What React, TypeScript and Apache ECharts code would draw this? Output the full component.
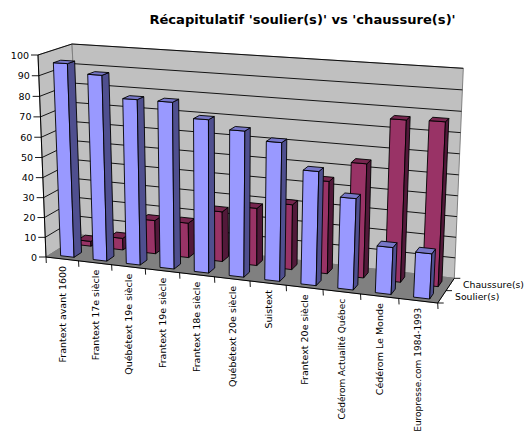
import React, { useEffect, useRef } from "react";
import * as echarts from "echarts";

const categories = [
  "Frantext avant 1600", "Frantext 17e siècle", "Québétext 19e siècle", "Frantext 19e siècle",
  "Frantext 18e siècle", "Québétext 20e siècle", "Suistext", "Frantext 20e siècle",
  "Cédérom Actualité Québec", "Cédérom Le Monde", "Europresse.com 1984-1993",
];
const soulier = [96, 91.5, 81, 81, 74, 70, 66, 54, 43, 22, 21];
const chaussure = [2.5, 6, 17, 17.5, 25, 28.5, 32, 45, 55, 77, 77.5];
const yTicks = [0, 10, 20, 30, 40, 50, 60, 70, 80, 90, 100];
const depthLabels = ["Soulier(s)", "Chaussure(s)"];
const title = "Récapitulatif 'soulier(s)' vs 'chaussure(s)'";

type P = [number, number];
const FONT = "'DejaVu Sans', Verdana, sans-serif";
// Cube corners: [front/back][bottom/top][left/right]
const FBL: P = [46, 257], FBR: P = [437.7, 303], BBL: P = [81, 235], BBR: P = [454.3, 278.3];
const FTL: P = [38, 55], FTR: P = [449, 81], BTL: P = [72, 44], BTR: P = [463.3, 68.3];
const mix = (a: P, b: P, t: number): P => [a[0] + (b[0] - a[0]) * t, a[1] + (b[1] - a[1]) * t];
const warpU = (u: number) => u / (1 + 0.104 * (1 - u));
const warpV = (v: number) => v / (1 + 0.03 * (1 - v));
const project = (u: number, v: number, w: number): P => {
  const uu = warpU(u), vv = warpV(v);
  const fb = mix(FBL, FBR, uu), ft = mix(FTL, FTR, uu), bb = mix(BBL, BBR, uu), bt = mix(BTL, BTR, uu);
  return mix(mix(fb, ft, vv), mix(bb, bt, vv), w);
};
const GRID = { left: 40, top: 40, width: 400, height: 200 };
const norm = (params: any, api: any, cat: number, val: number, a: number): [number, number] => {
  const r = params.coordSys;
  const pt = api.coord([cat, val]);
  const band = api.size([1, 0])[0];
  return [(pt[0] - band / 2 + a * band - r.x) / r.width, (r.y + r.height - pt[1]) / r.height];
};
const poly = (points: P[], fill: string, stroke = "#000", lineWidth = 0.9) => ({
  type: "polygon", shape: { points }, style: { fill, stroke, lineWidth },
});
const seg = (a: P, b: P, stroke = "#000", lineWidth = 0.9) => ({
  type: "line", shape: { x1: a[0], y1: a[1], x2: b[0], y2: b[1] }, style: { stroke, lineWidth, fill: "none" },
});
const label = (text: string, x: number, y: number, align: string, rotation = 0, fontSize = 9.5) => ({
  type: "text", x, y, rotation,
  style: { text, x: 0, y: 0, fontSize, fontFamily: FONT, fill: "#000", align, verticalAlign: "middle" },
});

const barRender = (w0: number, w1: number, front: string, side: string, top: string) => (params: any, api: any) => {
  const cat = api.value(0), val = api.value(1);
  const [u0, v] = norm(params, api, cat, val, 0.33);
  const [u1] = norm(params, api, cat, val, 0.745);
  const p = (u: number, vv: number, w: number) => project(u, vv, w);
  return {
    type: "group",
    children: [
      poly([p(u0, 0, w0), p(u1, 0, w0), p(u1, v, w0), p(u0, v, w0)], front),
      poly([p(u1, 0, w0), p(u1, 0, w1), p(u1, v, w1), p(u1, v, w0)], side),
      poly([p(u0, v, w0), p(u1, v, w0), p(u1, v, w1), p(u0, v, w1)], top),
    ],
  };
};

export default function App() {
  const ref = useRef<HTMLDivElement>(null);
  useEffect(() => {
    const chart = echarts.init(ref.current!, undefined, { renderer: "svg" });
    chart.setOption({
      animation: false,
      backgroundColor: "#fff",
      title: {
        text: title, left: 297.5, top: 8, textAlign: "center",
        textStyle: { fontFamily: FONT, fontSize: 13.1, fontWeight: "bold", color: "#000" },
      },
      grid: GRID,
      xAxis: { type: "category", data: categories, show: false, boundaryGap: true },
      yAxis: { type: "value", min: 0, max: 100, interval: 10, show: false },
      series: [
        {
          type: "custom", silent: true, clip: false, data: [[0, 0]],
          renderItem: () => ({
            type: "group",
            children: [
              poly([FTL, BTL, BBL, FBL], "#c0c0c0", "#808080", 1),
              poly([BTL, BTR, BBR, BBL], "#c0c0c0", "#808080", 1),
              poly([FBL, BBL, BBR, FBR], "#808080", "#808080", 1),
              seg(FBL, FTL, "#000", 1),
              seg(FBL, FBR, "#000", 1),
              seg(FBR, BBR, "#000", 1),
            ],
          }),
        },
        {
          type: "custom", silent: true, clip: false, data: yTicks.map((t) => [0, t]),
          renderItem: (params: any, api: any) => {
            const val = api.value(1);
            const [, v] = norm(params, api, 0, val, 0);
            const a = project(0, v, 0), b = project(0, v, 1), c = project(1, v, 1);
            const tick: P = [a[0] - 7, a[1]];
            return {
              type: "group",
              children: [
                ...(val > 0 ? [seg(a, b), seg(b, c)] : []),
                seg(a, tick),
                label(String(val), tick[0] - 2, tick[1], "right"),
              ],
            };
          },
        },
        {
          type: "custom", silent: true, clip: false, data: categories.map((_, i) => [i, 0]),
          renderItem: (params: any, api: any) => {
            const i = api.value(0);
            const [u0] = norm(params, api, i, 0, 0);
            const [u1] = norm(params, api, i, 0, 1);
            const [um] = norm(params, api, i, 0, 0.5);
            const a = project(u1, 0, 0);
            const m = project(um, 0, 0);
            const s = project(u0, 0, 0);
            return {
              type: "group",
              children: [
                seg(a, [a[0] + 0.3, a[1] + 6]),
                ...(i === 0 ? [seg(s, [s[0] + 0.3, s[1] + 6])] : []),
                label(categories[i], m[0], m[1] + 7, "right", Math.PI / 2, categories[i].length > 22 ? 9 : 9.5),
              ],
            };
          },
        },
        {
          type: "custom", silent: true, clip: false, data: depthLabels.map((_, i) => [0, i]),
          renderItem: (params: any, api: any) => {
            const i = api.value(1);
            const a = project(1, 0, i === 0 ? 0.5 : 1);
            const b = project(1, 0, i === 0 ? 0 : 0.5);
            return {
              type: "group",
              children: [
                seg(a, [a[0] + 6, a[1]]),
                ...(i === 0 ? [seg(b, [b[0] + 6, b[1]])] : []),
                label(depthLabels[i], i === 0 ? 455 : 463, i === 0 ? 296.5 : 284.5, "left", 0, 9.3),
              ],
            };
          },
        },
        {
          type: "custom", name: "Chaussure(s)", silent: true, clip: false,
          data: chaussure.map((v, i) => [i, v]),
          renderItem: barRender(0.615, 0.835, "#993366", "#52193a", "#77264f"),
        },
        {
          type: "custom", name: "Soulier(s)", silent: true, clip: false,
          data: soulier.map((v, i) => [i, v]),
          renderItem: barRender(0.115, 0.335, "#9999ff", "#4f4f8f", "#7777c8"),
        },
      ],
    });
    return () => chart.dispose();
  }, []);
  return <div ref={ref} style={{ position: "absolute", left: 0, top: 0, width: 525, height: 437 }} />;
}
